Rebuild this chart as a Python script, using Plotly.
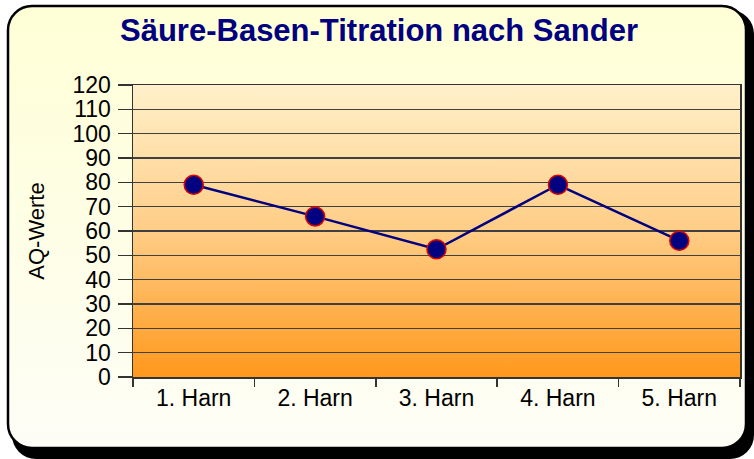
import base64
import plotly.graph_objects as go

categories = ["1. Harn", "2. Harn", "3. Harn", "4. Harn", "5. Harn"]
aq_values = [79, 66, 52.5, 79, 56]
y_ticks = list(range(0, 121, 10))

W, H = 754, 459
L, R, T, B = 133, 14, 85, 82
PW, PH = W - L - R, H - T - B

svg = f'''<svg xmlns="http://www.w3.org/2000/svg" width="{W}" height="{H}" viewBox="0 0 {W} {H}">
<defs>
<linearGradient id="pg" x1="0" y1="0" x2="0" y2="1">
<stop offset="0" stop-color="#FFFFD6"/><stop offset="1" stop-color="#FDFDF6"/></linearGradient>
<linearGradient id="ag" x1="0" y1="0" x2="0" y2="1">
<stop offset="0" stop-color="#FFF0CA"/><stop offset="0.5" stop-color="#FFCD86"/><stop offset="1" stop-color="#FF981C"/></linearGradient>
</defs>
<rect x="0" y="0" width="{W}" height="{H}" fill="#FFFFFF"/>
<rect x="12" y="10" width="742" height="449" rx="24" ry="24" fill="#000000"/>
<rect x="8" y="6" width="738" height="442" rx="24" ry="24" fill="url(#pg)" stroke="#000000" stroke-width="2.5"/>
<rect x="{L}" y="{T}" width="{PW}" height="{PH}" fill="url(#ag)"/>
</svg>'''
src = "data:image/svg+xml;base64," + base64.b64encode(svg.encode()).decode()

fig = go.Figure()
fig.add_trace(go.Scatter(
    x=categories, y=aq_values, mode="lines+markers",
    line=dict(color="#000080", width=2.5),
    marker=dict(size=19, color="#000080", line=dict(color="#E00000", width=1.5)),
    hoverinfo="skip", showlegend=False,
))

fig.add_layout_image(dict(
    source=src, xref="paper", yref="paper",
    x=-L / PW, y=1 + T / PH, sizex=W / PW, sizey=H / PH,
    xanchor="left", yanchor="top", sizing="stretch", layer="below",
))

fig.update_layout(
    width=W, height=H,
    margin=dict(l=L, r=R, t=T, b=B),
    paper_bgcolor="#FFFFFF", plot_bgcolor="rgba(0,0,0,0)",
    font=dict(family="Liberation Sans, Arial, sans-serif", color="#000000"),
    title=dict(text="<b>Säure-Basen-Titration nach Sander</b>", xref="paper",
               x=(379 - L) / PW, xanchor="center", y=1 - 30 / H, yanchor="middle",
               font=dict(size=31, color="#000080")),
)

fig.update_xaxes(
    type="category", range=[-0.5, 4.5], tickson="boundaries",
    ticks="outside", ticklen=8, tickwidth=1.5, tickcolor="#333333",
    showline=True, linecolor="#333333", linewidth=1.5, mirror=True,
    showgrid=False, tickfont=dict(size=23, color="#000000"),
)
fig.update_yaxes(
    range=[0, 120], tickvals=y_ticks, ticktext=[str(v) for v in y_ticks],
    ticks="outside", ticklen=14, tickwidth=1.5, tickcolor="#333333",
    ticklabelstandoff=2,
    showline=True, linecolor="#333333", linewidth=1.5, mirror=True,
    showgrid=True, gridcolor="#404040", gridwidth=1.4, zeroline=False,
    tickfont=dict(size=23, color="#000000"),
    title=dict(text="AQ-Werte", font=dict(size=22, color="#000000"), standoff=22),
)

fig.write_html(
    "out.html",
    config={"displayModeBar": False, "staticPlot": True},
    post_script="document.body.style.margin='0';document.body.style.overflow='hidden';",
)
